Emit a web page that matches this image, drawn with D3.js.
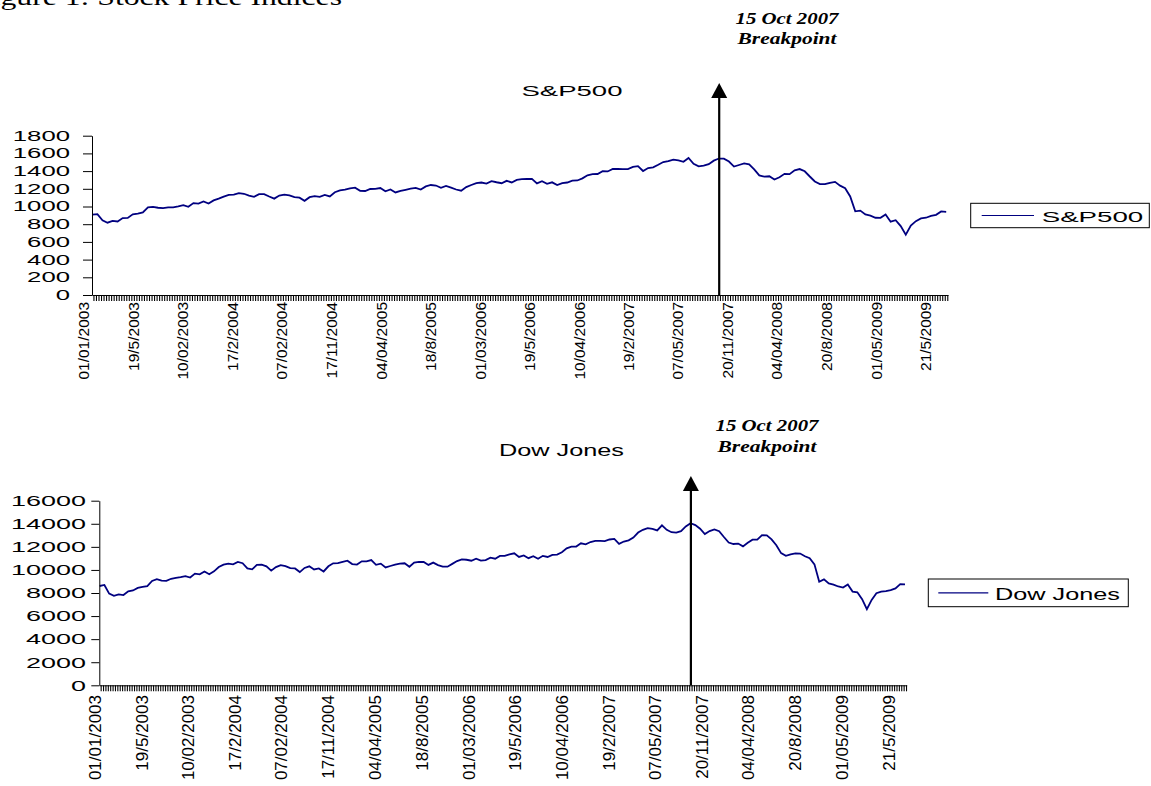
<!DOCTYPE html>
<html>
<head>
<meta charset="utf-8">
<script src="https://cdn.jsdelivr.net/npm/d3@7"></script>
<style>
  body { margin: 0; background: #fff; }
  svg { display: block; font-family: "Liberation Sans", Arial, sans-serif; }
</style>
</head>
<body>
<svg id="fig" width="1151" height="786"></svg>
<script>
// observations are every 14 days starting from this date
const startDate = "2003-01-02";

const spx = [
  909, 914, 844, 817, 837, 831, 869, 871, 911, 920,
  933, 990, 995, 986, 981, 990, 990, 1002, 1016, 997,
  1038, 1033, 1058, 1034, 1069, 1089, 1112, 1132, 1134, 1152,
  1144, 1123, 1110, 1139, 1140, 1113, 1089, 1124, 1133, 1126,
  1106, 1100, 1064, 1105, 1117, 1108, 1130, 1114, 1161, 1183,
  1191, 1205, 1213, 1177, 1175, 1198, 1200, 1209, 1172, 1192,
  1159, 1176, 1189, 1203, 1211, 1191, 1227, 1243, 1237, 1212,
  1232, 1214, 1192, 1178, 1219, 1243, 1265, 1271, 1258, 1287,
  1274, 1263, 1290, 1272, 1301, 1309, 1311, 1313, 1261, 1285,
  1256, 1273, 1242, 1263, 1271, 1292, 1294, 1318, 1353, 1366,
  1367, 1399, 1396, 1425, 1424, 1423, 1423, 1448, 1456, 1401,
  1434, 1443, 1471, 1502, 1512, 1530, 1522, 1505, 1548, 1482,
  1453, 1462, 1478, 1518, 1542, 1541, 1508, 1451, 1469, 1488,
  1476, 1420, 1352, 1337, 1342, 1304, 1330, 1369, 1365, 1409,
  1423, 1398, 1339, 1283, 1253, 1252, 1266, 1278, 1236, 1206,
  1114, 946, 954, 911, 896, 873, 872, 909, 828, 845,
  778, 682, 784, 834, 865, 873, 893, 906, 944, 940
];

const dji = [
  8607, 8697, 7946, 7749, 7884, 7821, 8146, 8221, 8440, 8531,
  8594, 9041, 9201, 9070, 9050, 9234, 9310, 9374, 9459, 9343,
  9680, 9613, 9856, 9629, 9873, 10248, 10454, 10553, 10488, 10694,
  10583, 10128, 10048, 10442, 10461, 10310, 9937, 10243, 10417, 10334,
  10163, 10129, 9815, 10173, 10314, 10038, 10125, 9866, 10315, 10572,
  10585, 10705, 10800, 10505, 10467, 10749, 10748, 10851, 10443, 10546,
  10218, 10340, 10464, 10553, 10578, 10275, 10629, 10705, 10686, 10434,
  10633, 10422, 10287, 10282, 10522, 10766, 10912, 10881, 10796, 10973,
  10809, 10858, 11069, 10972, 11211, 11217, 11342, 11438, 11128, 11260,
  11016, 11191, 10964, 11220, 11124, 11298, 11335, 11534, 11867, 12012,
  12031, 12305, 12221, 12416, 12511, 12514, 12502, 12637, 12687, 12260,
  12461, 12560, 12808, 13241, 13476, 13628, 13553, 13422, 13862, 13473,
  13271, 13236, 13363, 13766, 14044, 13888, 13568, 13110, 13371, 13517,
  13360, 12853, 12378, 12248, 12284, 12040, 12361, 12626, 12620, 13010,
  12992, 12646, 12141, 11453, 11229, 11350, 11431, 11417, 11188, 11019,
  10483, 8979, 9180, 8835, 8726, 8565, 8468, 8742, 8123, 8063,
  7465, 6594, 7400, 7978, 8125, 8168, 8248, 8403, 8770, 8750
];

// category labels as printed under the axis, and the day each one sits on
const tickLabels = [
  "01/01/2003", "19/5/2003", "10/02/2003", "17/2/2004", "07/02/2004", "17/11/2004",
  "04/04/2005", "18/8/2005", "01/03/2006", "19/5/2006", "10/04/2006", "19/2/2007",
  "07/05/2007", "20/11/2007", "04/04/2008", "20/8/2008", "01/05/2009", "21/5/2009"
];
const tickDates = [
  "2003-01-01", "2003-05-19", "2003-10-02", "2004-02-17", "2004-07-02", "2004-11-17",
  "2005-04-04", "2005-08-18", "2006-01-03", "2006-05-19", "2006-10-04", "2007-02-19",
  "2007-07-05", "2007-11-20", "2008-04-04", "2008-08-20", "2009-01-05", "2009-05-21"
];
const axisRange = ["2003-01-01", "2009-06-30"];

const arrowDate = "2007-10-05";
const noteLines = ["15 Oct 2007", "Breakpoint"];

const parse = d3.timeParse("%Y-%m-%d");
const dates = spx.map((_, i) => d3.timeDay.offset(parse(startDate), 14 * i));

const svg = d3.select("#fig");
const serif = '"Liberation Serif", "Times New Roman", serif';

// clipped figure caption at the very top
svg.append("text")
    .attr("x", -26).attr("y", 5)
    .attr("font-size", 24)
    .attr("textLength", 368)
    .attr("lengthAdjust", "spacingAndGlyphs")
    .style("font-family", serif)
    .text("Figure 1: Stock Price Indices");

const panels = [
  {name: "S&P500", values: spx, x0: 92, x1: 948, yTop: 135.7, yBot: 295,
   yMax: 1800, yStep: 200, yTick: 9, yPad: 13, yFont: 14, yCharW: 14.3,
   xFont: 15.5, xLabelTop: 302, xDx: -8,
   titleX: 572, titleY: 96, titleFont: 15.5, titleW: 101,
   legend: {x: 970.7, y: 203.3, w: 178.6, h: 24.4, l0: 981.7, l1: 1034, tx: 1041.7, tw: 101.6, ty: 221.7, font: 15.5},
   arrowTip: 83, noteX: 787, noteY: [24, 44]},
  {name: "Dow Jones", values: dji, x0: 99.3, x1: 906.7, yTop: 500.7, yBot: 685.3,
   yMax: 16000, yStep: 2000, yTick: 8, yPad: 5.3, yFont: 15, yCharW: 15,
   xFont: 17, xLabelTop: 695, xDx: -4.3,
   titleX: 561.5, titleY: 456, titleFont: 16.5, titleW: 125,
   legend: {x: 928.3, y: 579, w: 200, h: 27.7, l0: 938.3, l1: 988.3, tx: 995, tw: 125, ty: 599.5, font: 17},
   arrowTip: 476, noteX: 767, noteY: [431, 452]}
];

panels.forEach(p => draw(p));

function draw(p) {
  var g = svg.append("g");

  var x = d3.scaleTime()
      .domain(axisRange.map(parse))
      .range([p.x0, p.x1]);

  var y = d3.scaleLinear()
      .domain([0, p.yMax])
      .range([p.yBot, p.yTop]);

  // series line
  var line = d3.line()
      .x((d, i) => x(dates[i]))
      .y(d => y(d));

  g.append("path")
      .datum(p.values)
      .attr("fill", "none")
      .attr("stroke", "#000080")
      .attr("stroke-width", 1.8)
      .attr("stroke-linejoin", "miter")
      .attr("d", line);

  // y axis
  var yAxis = g.append("g")
      .attr("transform", "translate(" + p.x0 + ",0)")
      .call(d3.axisLeft(y)
        .tickValues(d3.range(0, p.yMax + 1, p.yStep))
        .tickSize(p.yTick)
        .tickSizeOuter(0)
        .tickPadding(p.yPad)
        .tickFormat(d3.format("d")));
  yAxis.attr("font-family", null).attr("font-size", null);
  yAxis.selectAll("text")
      .attr("font-size", p.yFont)
      .attr("textLength", d => String(d).length * p.yCharW)
      .attr("lengthAdjust", "spacingAndGlyphs");

  // x axis with the dense comb of ticks
  var xAxis = g.append("g")
      .attr("transform", "translate(0," + p.yBot + ")")
      .call(d3.axisBottom(x)
        .tickValues(d3.timeWeek.range(x.domain()[0], x.domain()[1]))
        .tickSize(6)
        .tickSizeOuter(0)
        .tickFormat(""));
  xAxis.selectAll("line").attr("stroke-width", 1.1);

  // rotated date labels
  g.selectAll("text.xl")
      .data(tickLabels)
      .enter().append("text")
      .attr("class", "xl")
      .attr("transform", (d, i) =>
          "translate(" + (x(parse(tickDates[i])) + p.xDx) + "," + p.xLabelTop + ") rotate(-90)")
      .attr("text-anchor", "end")
      .attr("dy", "0.35em")
      .attr("font-size", p.xFont)
      .text(d => d);

  // chart title
  g.append("text")
      .attr("x", p.titleX).attr("y", p.titleY)
      .attr("text-anchor", "middle")
      .attr("font-size", p.titleFont)
      .attr("textLength", p.titleW)
      .attr("lengthAdjust", "spacingAndGlyphs")
      .text(p.name);

  // legend
  var L = p.legend;
  g.append("rect")
      .attr("x", L.x).attr("y", L.y)
      .attr("width", L.w).attr("height", L.h)
      .attr("fill", "#fff").attr("stroke", "#000").attr("stroke-width", 1);
  g.append("line")
      .attr("x1", L.l0).attr("x2", L.l1)
      .attr("y1", L.y + L.h / 2).attr("y2", L.y + L.h / 2)
      .attr("stroke", "#000080").attr("stroke-width", 1.2);
  g.append("text")
      .attr("x", L.tx).attr("y", L.ty)
      .attr("font-size", L.font)
      .attr("textLength", L.tw)
      .attr("lengthAdjust", "spacingAndGlyphs")
      .text(p.name);

  // breakpoint arrow
  var ax = x(parse(arrowDate));
  g.append("line")
      .attr("x1", ax).attr("x2", ax)
      .attr("y1", p.arrowTip + 10).attr("y2", p.yBot)
      .attr("stroke", "#000").attr("stroke-width", 2.2);
  g.append("path")
      .attr("d", "M" + ax + "," + p.arrowTip +
                 "L" + (ax + 8) + "," + (p.arrowTip + 15) +
                 "L" + (ax - 8) + "," + (p.arrowTip + 15) + "Z")
      .attr("fill", "#000");

  // breakpoint note
  g.selectAll("text.note")
      .data(noteLines)
      .enter().append("text")
      .attr("class", "note")
      .attr("x", p.noteX)
      .attr("y", (d, i) => p.noteY[i])
      .attr("text-anchor", "middle")
      .attr("font-weight", "bold")
      .attr("font-style", "italic")
      .attr("font-size", 16)
      .attr("textLength", (d, i) => i === 0 ? 103 : 99)
      .attr("lengthAdjust", "spacingAndGlyphs")
      .style("font-family", serif)
      .text(d => d);
}
</script>
</body>
</html>
